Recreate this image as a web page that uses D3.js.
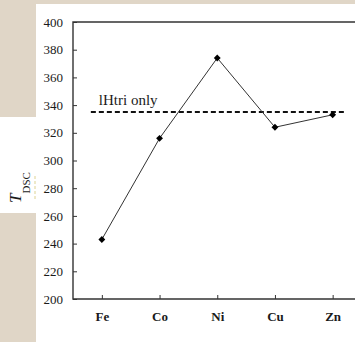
<!DOCTYPE html>
<html>
<head>
<meta charset="utf-8">
<script src="https://cdn.jsdelivr.net/npm/d3@7"></script>
<style>
  body { margin: 0; background: #e0d6c7; }
  svg { display: block; }
  svg text { font-family: "Liberation Serif", "DejaVu Serif", serif; }
</style>
</head>
<body>
<script>
// chart values
const metals = ["Fe", "Co", "Ni", "Cu", "Zn"]
const tdsc = [243, 316, 374, 324, 333]
const refValue = 335
const refLabel = "lHtri only"
const yTicks = [200, 220, 240, 260, 280, 300, 320, 340, 360, 380, 400]

const width = 355
const height = 342
const padLeft = 73, padTop = 22, padBottom = 299
const step = 57.7

const svg = d3.select("body")
    .append("svg")
    .attr("width", width)
    .attr("height", height)

// page panels
svg.append("rect")
    .attr("x", 36).attr("y", 4)
    .attr("width", width - 36).attr("height", height - 4)
    .attr("fill", "#fff")
svg.append("rect")
    .attr("x", 0).attr("y", 117)
    .attr("width", 36).attr("height", 96)
    .attr("fill", "#fff")
// faint mark beside the axis title
svg.append("line")
    .attr("x1", 35).attr("x2", 35)
    .attr("y1", 176).attr("y2", 201)
    .attr("stroke", "#e9e2b8")
    .attr("stroke-width", 1.5)
    .attr("stroke-dasharray", "3,2")

const xScale = d3.scalePoint()
    .domain(metals)
    .range([padLeft + step / 2, padLeft + step * 4.5])

const yScale = d3.scaleLinear()
    .domain([200, 400])
    .range([padBottom, padTop])

// y axis, ticks point inward
const yAxis = d3.axisRight(yScale)
    .tickValues(yTicks)
    .tickSize(4)
    .tickFormat(d => d)
const gy = svg.append("g")
    .attr("transform", "translate(" + padLeft + ",0)")
    .call(yAxis)
gy.attr("font-family", null)
gy.select(".domain").remove()
gy.selectAll("line").attr("stroke", "#333").attr("stroke-width", 1)
gy.selectAll("text")
    .attr("x", -10)
    .attr("text-anchor", "end")
    .style("font-size", "13px")
    .attr("fill", "#1a1a1a")

// x axis, ticks point up
const xAxis = d3.axisTop(xScale)
    .tickSize(4)
const gx = svg.append("g")
    .attr("transform", "translate(0," + padBottom + ")")
    .call(xAxis)
gx.attr("font-family", null)
gx.select(".domain").remove()
gx.selectAll("line").attr("stroke", "#333").attr("stroke-width", 1)
gx.selectAll("text")
    .attr("y", 22)
    .style("font-size", "13px")
    .style("font-weight", "bold")
    .attr("fill", "#1a1a1a")

// frame: left, top and bottom lines (right side runs off the page)
const xEnd = padLeft + step * 5
svg.append("path")
    .attr("d", "M" + xEnd + "," + padTop + "H" + padLeft + "V" + padBottom + "H" + xEnd)
    .attr("fill", "none")
    .attr("stroke", "#333")
    .attr("stroke-width", 1.4)

// reference dashed line
svg.append("line")
    .attr("x1", xScale("Fe") - 11)
    .attr("x2", xScale("Zn") + 12)
    .attr("y1", yScale(refValue))
    .attr("y2", yScale(refValue))
    .attr("stroke", "#111")
    .attr("stroke-width", 2)
    .attr("stroke-dasharray", "5,3")
svg.append("text")
    .attr("x", xScale("Fe") - 3)
    .attr("y", yScale(refValue) - 7)
    .style("font-size", "15px")
    .attr("fill", "#1a1a1a")
    .text(refLabel)

// data line
const line = d3.line()
    .x((d, i) => xScale(metals[i]))
    .y(d => yScale(d))
svg.append("path")
    .datum(tdsc)
    .attr("d", line)
    .attr("fill", "none")
    .attr("stroke", "#333")
    .attr("stroke-width", 1)

svg.selectAll(".pt")
    .data(tdsc)
    .enter()
    .append("path")
    .attr("class", "pt")
    .attr("d", d3.symbol().type(d3.symbolDiamond2).size(30))
    .attr("transform", (d, i) => "translate(" + xScale(metals[i]) + "," + yScale(d) + ")")
    .attr("fill", "#000")

// y label, T with a low subscript
const lab = svg.append("text")
    .attr("transform", "translate(21,203) rotate(-90)")
    .attr("fill", "#1a1a1a")
lab.append("tspan")
    .style("font-style", "italic")
    .style("font-size", "17px")
    .text("T")
lab.append("tspan")
    .style("font-size", "11px")
    .attr("dy", 9)
    .text("DSC")
</script>
</body>
</html>
